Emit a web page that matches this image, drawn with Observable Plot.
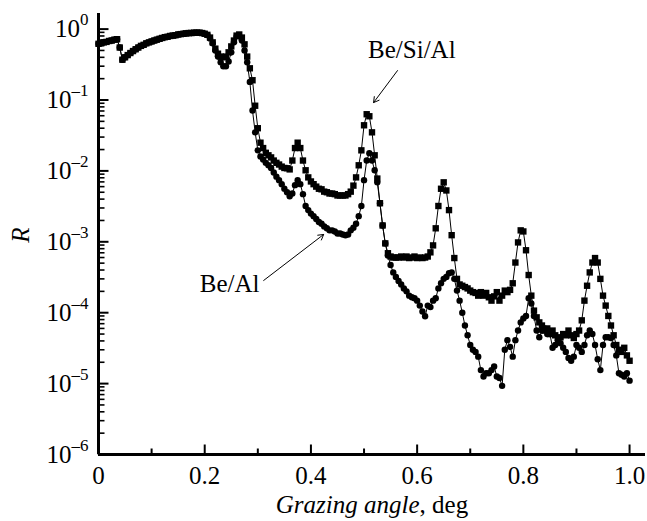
<!DOCTYPE html>
<html><head><meta charset="utf-8">
<script src="https://cdn.jsdelivr.net/npm/d3@7"></script>
<script src="https://cdn.jsdelivr.net/npm/@observablehq/plot@0.6"></script>
<style>
body{margin:0;background:#fff}
svg{font-family:"Liberation Serif","Times New Roman",serif}
</style>
</head><body><div id="chart"></div>
<script>
// Grazing angle, deg
const angles = [
0,0.005,0.01,0.015,0.02,0.025,0.03,0.035,0.04,0.045,
0.05,0.055,0.06,0.065,0.07,0.075,0.08,0.085,0.09,0.095,
0.1,0.105,0.11,0.115,0.12,0.125,0.13,0.135,0.14,0.145,
0.15,0.155,0.16,0.165,0.17,0.175,0.18,0.185,0.19,0.195,
0.2,0.205,0.21,0.215,0.22,0.225,0.23,0.235,0.24,0.245,
0.25,0.255,0.26,0.265,0.27,0.275,0.28,0.285,0.29,0.295,
0.3,0.305,0.31,0.315,0.32,0.325,0.33,0.335,0.34,0.345,
0.35,0.355,0.36,0.365,0.37,0.375,0.38,0.385,0.39,0.395,
0.4,0.405,0.41,0.415,0.42,0.425,0.43,0.435,0.44,0.445,
0.45,0.455,0.46,0.465,0.47,0.475,0.48,0.485,0.49,0.495,
0.5,0.505,0.51,0.515,0.52,0.525,0.53,0.535,0.54,0.545,
0.55,0.555,0.56,0.565,0.57,0.575,0.58,0.585,0.59,0.595,
0.6,0.605,0.61,0.615,0.62,0.625,0.63,0.635,0.64,0.645,
0.65,0.655,0.66,0.665,0.67,0.675,0.68,0.685,0.69,0.695,
0.7,0.705,0.71,0.715,0.72,0.725,0.73,0.735,0.74,0.745,
0.75,0.755,0.76,0.765,0.77,0.775,0.78,0.785,0.79,0.795,
0.8,0.805,0.81,0.815,0.82,0.825,0.83,0.835,0.84,0.845,
0.85,0.855,0.86,0.865,0.87,0.875,0.88,0.885,0.89,0.895,
0.9,0.905,0.91,0.915,0.92,0.925,0.93,0.935,0.94,0.945,
0.95,0.955,0.96,0.965,0.97,0.975,0.98,0.985,0.99,0.995,
1.0];

// Reflectivity R, Be/Al (circles)
const rBeAl = [
0.62,0.63,0.65,0.66,0.68,0.69,0.71,0.72,0.55,0.37,
0.40,0.43,0.46,0.49,0.52,0.55,0.58,0.60,0.63,0.65,
0.67,0.69,0.71,0.73,0.75,0.77,0.78,0.80,0.81,0.82,
0.84,0.85,0.86,0.87,0.88,0.88,0.89,0.89,0.89,0.88,
0.86,0.83,
0.74,0.63,0.50,0.41,0.34,0.30,0.30,0.35,0.47,0.65,
0.79,0.79,0.69,0.50,0.34,0.18,0.071,0.035,0.0195,0.016,
0.0145,0.013,0.012,0.011,0.0095,0.0083,0.0074,0.0065,0.0056,0.0050,
0.0044,0.0048,0.0063,0.0074,0.0065,0.0047,0.0032,0.0028,0.0025,0.0023,
0.0021,0.0019,0.0018,0.00165,0.00155,0.00145,0.00145,0.0014,0.00131,0.00131,
0.00127,0.00124,0.00127,0.00145,0.00158,0.0018,0.0023,0.0032,0.0074,0.014,
0.0178,0.014,0.0102,0.0069,0.0035,0.0017,0.00095,0.00064,0.00047,0.00037,
0.00032,0.00028,0.00025,0.00022,0.0002,0.000174,0.000165,0.00016,0.000148,0.000126,
0.000104,0.000089,0.000126,0.00012,0.000148,0.00016,0.00022,0.00026,0.0003,0.00032,
0.00036,0.00037,0.0003,0.000205,0.000148,0.0001,0.000066,0.000048,0.000035,0.00003,
0.000028,0.000024,0.0000155,0.0000126,0.000014,0.000014,0.0000155,0.0000174,0.0000126,0.000012,
0.0000093,0.00003,0.000041,0.000033,0.000024,0.000041,0.000056,0.000073,0.000083,0.00009,
0.00016,0.000135,0.00009,0.000056,0.000045,0.000056,0.00006,0.00005,0.00005,0.000032,
0.000035,0.000041,0.000037,0.000032,0.000028,0.000023,0.000021,0.000024,0.000035,0.000032,
0.000028,0.000035,0.000048,0.000056,0.00005,0.000035,0.000022,0.0000155,0.000035,0.000045,
0.000045,0.000044,0.000035,0.000025,0.000014,0.0000133,0.0000126,0.000014,0.000011];

// Reflectivity R, Be/Si/Al (squares)
const rBeSiAl = [
0.62,0.63,0.65,0.66,0.68,0.69,0.71,0.72,0.55,0.37,
0.40,0.43,0.46,0.49,0.52,0.55,0.58,0.60,0.63,0.65,
0.67,0.69,0.71,0.73,0.75,0.77,0.78,0.80,0.81,0.82,
0.84,0.85,0.86,0.87,0.88,0.88,0.89,0.89,0.89,0.88,
0.86,0.83,
0.76,0.65,0.53,0.45,0.41,0.40,0.41,0.47,0.57,0.69,
0.81,0.84,0.76,0.61,0.41,0.28,0.19,0.083,0.04,0.025,
0.021,0.018,0.0166,0.0155,0.014,0.013,0.0123,0.0115,0.011,0.0109,
0.0105,0.014,0.021,0.025,0.021,0.014,0.0102,0.0081,0.0071,0.0065,
0.006,0.0056,0.0055,0.0051,0.005,0.0048,0.0048,0.0047,0.0045,0.0045,
0.0045,0.0045,0.0047,0.0051,0.0062,0.0081,0.012,0.0195,0.044,0.063,
0.059,0.035,0.0166,0.0078,0.0035,0.0017,0.00095,0.00069,0.00062,0.0006,
0.0006,0.0006,0.00062,0.0006,0.00062,0.00059,0.0006,0.00062,0.00059,0.0006,
0.00059,0.0006,0.00062,0.00071,0.00089,0.00155,0.0032,0.0056,0.0069,0.0053,
0.0028,0.00124,0.00059,0.0003,0.00025,0.00024,0.00023,0.00022,0.000205,0.000195,
0.00019,0.000174,0.000195,0.000174,0.00019,0.000165,0.000148,0.00017,0.000195,0.000148,
0.000174,0.000205,0.000195,0.00021,0.00026,0.00051,0.00098,0.00145,0.0014,0.00076,
0.00034,0.000174,0.000107,0.000086,0.000073,0.000066,0.000056,0.00006,0.00005,0.000056,
0.000048,0.000044,0.000045,0.00005,0.000048,0.000056,0.000048,0.000044,0.00005,0.000056,
0.000078,0.000148,0.00024,0.00037,0.00051,0.00059,0.00051,0.0003,0.000174,0.000126,
0.00009,0.000066,0.000048,0.000035,0.00003,0.000028,0.000032,0.000025,0.000021];

// Axis ticks
const xTicks = [0, 0.2, 0.4, 0.6, 0.8, 1.0];
const xTickLabels = ["0", "0.2", "0.4", "0.6", "0.8", "1.0"];
const xMinorTicks = [0.1, 0.3, 0.5, 0.7, 0.9];
const yExponents = [-6, -5, -4, -3, -2, -1, 0];
const yTicks = yExponents.map(e => Math.pow(10, e));
const yMinorTicks = yExponents.slice(0, -1).flatMap(e => [2,3,4,5,6,7,8,9].map(k => k * Math.pow(10, e)));

// Annotations (data units)
const labels = [
  {text: "Be/Si/Al", angle: 0.59, R: 0.5},
  {text: "Be/Al", angle: 0.247, R: 2.5e-4}
];
const arrows = [
  {a1: 0.563, r1: 0.26, a2: 0.518, r2: 0.092},
  {a1: 0.311, r1: 2.85e-4, a2: 0.424, r2: 1.27e-3}
];

const sAl = angles.map((a, i) => ({angle: a, R: rBeAl[i]}));
const sSiAl = angles.map((a, i) => ({angle: a, R: rBeSiAl[i]}));

const xLabelOf = d => xTickLabels[xTicks.findIndex(t => Math.abs(t - d) < 1e-9)];
const yExpOf = d => String(yExponents[yTicks.findIndex(t => Math.abs(Math.log10(t) - Math.log10(d)) < 1e-6)]);

// Frame geometry, used to convert tick lengths (px) into data units
const W = 647, H = 521, mL = 98, mR = 2, mT = 13, mB = 67;
const xDomain = [0, 1.03], yDomain = [1e-6, 1.66];
const pxPerX = (W - mL - mR) / (xDomain[1] - xDomain[0]);
const pxPerDecade = (H - mT - mB) / Math.log10(yDomain[1] / yDomain[0]);
const xLen = px => px / pxPerX;
const yFac = px => Math.pow(10, px / pxPerDecade);

const xTickLinks = xTicks.map(v => ({x1: v, x2: v, y1: yDomain[0], y2: yDomain[0] * yFac(10)}))
  .concat(xMinorTicks.map(v => ({x1: v, x2: v, y1: yDomain[0], y2: yDomain[0] * yFac(6)})));
const yTickLinksMajor = yTicks.map(v => ({x1: 0, x2: xLen(10), y1: v, y2: v}));
const yTickLinksMinor = yMinorTicks.map(v => ({x1: 0, x2: xLen(6), y1: v, y2: v}));

const chart = Plot.plot({
  width: W, height: H,
  marginLeft: mL, marginRight: mR, marginTop: mT, marginBottom: mB,
  style: {fontFamily: '"Liberation Serif","Times New Roman",serif', fontSize: "25px", color: "#000", background: "#fff", overflow: "visible"},
  x: {domain: xDomain},
  y: {type: "log", domain: yDomain},
  marks: [
    Plot.axisX(xTicks, {tickSize: 0, tickPadding: 12, tickFormat: xLabelOf, label: null, fontSize: 25}),
    Plot.axisY(yTicks, {tickSize: 0, tickPadding: 10, tickFormat: yExpOf, label: null, fontSize: 25}),
    Plot.link(xTickLinks, {x1: "x1", x2: "x2", y1: "y1", y2: "y2", stroke: "black", strokeWidth: 2}),
    Plot.link(yTickLinksMajor, {x1: "x1", x2: "x2", y1: "y1", y2: "y2", stroke: "black", strokeWidth: 2}),
    Plot.link(yTickLinksMinor, {x1: "x1", x2: "x2", y1: "y1", y2: "y2", stroke: "black", strokeWidth: 1.6}),
    Plot.ruleX([0], {strokeWidth: 3, stroke: "black"}),
    Plot.ruleY([1e-6], {strokeWidth: 3, stroke: "black"}),
    Plot.line(sAl, {x: "angle", y: "R", stroke: "black", strokeWidth: 1}),
    Plot.line(sSiAl, {x: "angle", y: "R", stroke: "black", strokeWidth: 1}),
    Plot.dot(sAl, {x: "angle", y: "R", symbol: "circle", r: 3.2, fill: "black"}),
    Plot.dot(sSiAl, {x: "angle", y: "R", symbol: "square", r: 3.6, fill: "black"}),
    Plot.arrow(arrows, {x1: "a1", y1: "r1", x2: "a2", y2: "r2", stroke: "black", strokeWidth: 1, headLength: 9}),
    Plot.text(labels, {x: "angle", y: "R", text: "text", fontSize: 25, fill: "black"})
  ]
});

const svg = d3.select(chart);
// superscript exponents on y tick labels
svg.selectAll('g[aria-label="y-axis tick label"] text').each(function() {
  const t = d3.select(this);
  const e = t.text();
  if (!e || e === "undefined") { if (e === "undefined") t.text(""); return; }
  t.text(null);
  t.append("tspan").text("10");
  t.append("tspan").attr("dy", "-12").attr("font-size", "17px").text(e.replace("-", "\u2013"));
});
// axis titles
const xl = svg.append("text").attr("x", 372).attr("y", 513).attr("text-anchor", "middle").attr("font-size", 25).attr("fill", "black");
xl.append("tspan").attr("font-style", "italic").text("Grazing angle");
xl.append("tspan").text(", deg");
svg.append("text").attr("transform", "translate(29,235) rotate(-90)").attr("text-anchor", "middle")
  .attr("font-size", 25).attr("font-style", "italic").attr("fill", "black").text("R");

document.getElementById("chart").appendChild(chart);
</script>
</body></html>
